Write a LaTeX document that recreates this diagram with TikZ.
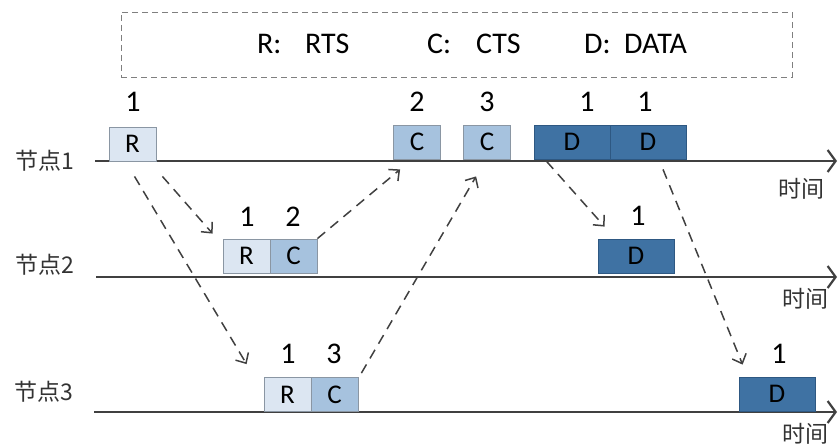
\documentclass[tikz,border=0pt]{standalone}
\usepackage{fontspec}
\setmainfont{Carlito}
\newfontfamily\cjk{Noto Sans CJK SC}
\usetikzlibrary{arrows.meta}
\definecolor{lineg}{HTML}{404040}
\definecolor{boxb}{HTML}{8A96A3}
\definecolor{rfill}{HTML}{DCE6F2}
\definecolor{cfill}{HTML}{A6C2DE}
\definecolor{dfill}{HTML}{3F72A3}
\definecolor{dborder}{HTML}{2E5882}
\definecolor{legb}{HTML}{7F7F7F}
\begin{document}
\begin{tikzpicture}[x=1pt,y=-1pt,
  timeline/.style={draw=lineg,line width=2.6pt,-{Straight Barb[length=8pt,width=22pt,line width=2.2pt]}},
  sig/.style={draw=lineg,line width=1.5pt,dash pattern=on 10pt off 7pt,-{Straight Barb[length=8pt,width=15pt,line width=1.5pt]}},
  pkt/.style={minimum height=34pt,inner sep=0pt,draw=boxb,line width=0.8pt,font=\fontsize{27}{27}\selectfont},
  rbox/.style={pkt,minimum width=47pt,fill=rfill},
  cbox/.style={pkt,minimum width=47pt,fill=cfill},
  dbox/.style={pkt,minimum width=76pt,fill=dfill,draw=dborder},
  num/.style={inner sep=0pt,font=\fontsize{30}{30}\selectfont},
  nodelabel/.style={inner sep=0pt,font=\cjk\fontsize{23}{23}\selectfont,text=black!80},
  timelabel/.style={inner sep=0pt,font=\cjk\fontsize{23}{23}\selectfont,text=black!80},
  legtext/.style={inner sep=0pt,anchor=west,font=\fontsize{30}{30}\selectfont},
  legendbox/.style={draw=legb,line width=1pt,dash pattern=on 6pt off 4pt,minimum width=671pt,minimum height=65pt,inner sep=0pt}
]
\useasboundingbox (0,0) rectangle (838,447);

% legend
\node[legendbox] (leg) at (456.5,44.5) {};
\node[legtext] (legR) at (257,44) {R:};
\node[legtext] (legRTS) at (305,44) {RTS};
\node[legtext] (legC) at (427,44) {C:};
\node[legtext] (legCTS) at (476,44) {CTS};
\node[legtext] (legD) at (584,44) {D:};
\node[legtext] (legDATA) at (624,44) {DATA};

% timelines
\coordinate (l1s) at (95,161);  \coordinate (l1e) at (837,161);
\coordinate (l2s) at (96,277);  \coordinate (l2e) at (837,277);
\coordinate (l3s) at (94,412);  \coordinate (l3e) at (837,412);
\draw[timeline] (l1s) -- (l1e);
\draw[timeline] (l2s) -- (l2e);
\draw[timeline] (l3s) -- (l3e);

\node[nodelabel] (n1) at (45,161) {节点1};
\node[nodelabel] (n2) at (45,265) {节点2};
\node[nodelabel] (n3) at (44,392) {节点3};
\node[timelabel] (t1) at (801,189) {时间};
\node[timelabel] (t2) at (805,299) {时间};
\node[timelabel] (t3) at (805,434) {时间};

% node 1 packets
\node[rbox] (r1) at (132.5,144) {R};
\node[cbox] (c12) at (417,142) {C};
\node[cbox] (c13) at (487,142) {C};
\node[dbox] (d11) at (572,142) {D};
\node[dbox] (d12) at (648,142) {D};
\node[num] (lr1) at (133,102) {1};
\node[num] (lc12) at (417,102) {2};
\node[num] (lc13) at (487,102) {3};
\node[num] (ld11) at (587,102) {1};
\node[num] (ld12) at (645,102) {1};

% node 2 packets
\node[rbox] (r2) at (246.5,256) {R};
\node[cbox] (c2) at (293.5,256) {C};
\node[dbox] (d2) at (636,256) {D};
\node[num] (lr2) at (247,217) {1};
\node[num] (lc2) at (293,217) {2};
\node[num] (ld2) at (638,216) {1};

% node 3 packets
\node[rbox] (r3) at (287.5,394.5) {R};
\node[cbox] (c3) at (334.5,394.5) {C};
\node[dbox] (d3) at (777,394) {D};
\node[num] (lr3) at (288,354) {1};
\node[num] (lc3) at (334,354) {3};
\node[num] (ld3) at (779,354) {1};

% signalling arrows
\draw[sig] ([shift={(2,15)}]r1.south) -- ([shift={(-17,-13)}]r3.north west);
\draw[sig] ([shift={(6,15)}]r1.south east) -- ([shift={(-10,-5)}]r2.north west);
\draw[sig] (c2.north east) -- ([shift={(7,10)}]c12.south west);
\draw[sig] ([shift={(3,-4)}]c3.north east) -- ([shift={(13,17)}]c13.south west);
\draw[sig] ([shift={(13,2)}]d11.south west) -- ([shift={(7,-12)}]d2.north west);
\draw[sig] ([shift={(15,10)}]d12.south) -- ([shift={(4,-12)}]d3.north west);
\end{tikzpicture}
\end{document}
